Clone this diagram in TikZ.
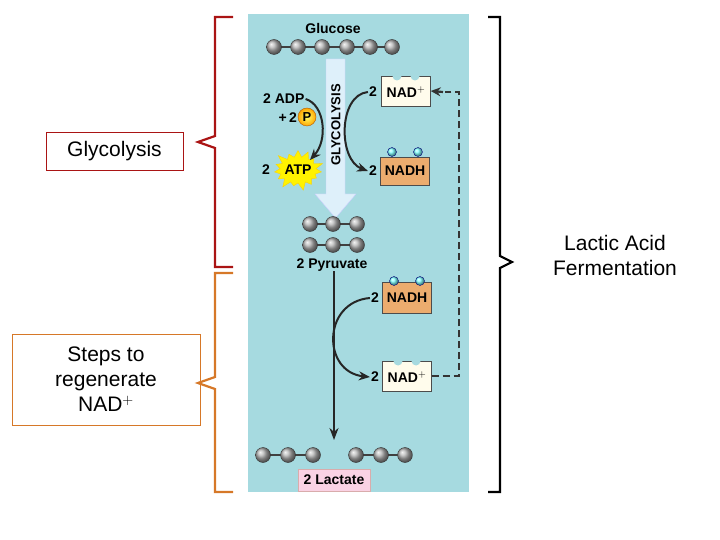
\documentclass[tikz,border=0pt]{standalone}
\usepackage{fontspec}
\setmainfont{Liberation Sans}
\usetikzlibrary{shapes.misc,shapes.geometric,shapes.symbols,arrows.meta}
\definecolor{panel}{RGB}{166,218,224}
\definecolor{nadh}{RGB}{236,172,110}
\definecolor{nadbox}{RGB}{255,252,236}
\definecolor{pinkbox}{RGB}{250,210,228}
\definecolor{arrowfill}{RGB}{222,240,250}
\definecolor{bred}{RGB}{170,20,20}
\definecolor{borange}{RGB}{214,120,40}
\tikzset{
 ball/.style={circle,minimum size=15pt,inner sep=0pt,draw=gray!40!black,ball color=gray!60},
 lbl/.style={font=\bfseries\fontsize{14}{14}\selectfont,inner sep=1pt},
 nadplus/.style={draw=gray!60!black,fill=nadbox,minimum width=49pt,minimum height=30pt,inner sep=0pt},
 nadhbox/.style={draw=gray!60!black,fill=nadh,minimum width=49pt,minimum height=28pt,inner sep=0pt},
 dot/.style={circle,minimum size=9pt,inner sep=0pt,draw=blue!50!black,ball color=cyan!50},
 carrow/.style={-{Stealth[length=11pt,width=9pt]},line width=2pt,black!85},
 side/.style={font=\fontsize{21}{25}\selectfont,align=center},
}
\begin{document}
\begin{tikzpicture}[x=1pt,y=-1pt]
\useasboundingbox (0,0) rectangle (720,540);
\fill[panel] (248,14) rectangle (469,492);
% glucose
\node[lbl] at (333,28) {Glucose};
\draw[gray!50!black,line width=1.2pt] (274,47) -- (392,47);
\foreach \x/\n in {274/g1,298/g2,322/g3,347/g4,370/g5,392/g6} \node[ball] (\n) at (\x,47) {};
% glycolysis arrow
\draw[draw=white!80!blue,fill=arrowfill] (326,59) -- (345,59) -- (345,194) -- (356,194) -- (335.5,218) -- (315,194) -- (326,194) -- cycle;
\node[lbl,rotate=90,font=\bfseries\fontsize{13}{13}\selectfont] (gl) at (336,125) {GLYCOLYSIS};
% pyruvate
\draw[gray!50!black,line width=1.2pt] (310,224) -- (357,224) (310,245) -- (357,245);
\foreach \x/\n in {310/p1,333/p2,357/p3} {\node[ball] (\n a) at (\x,224) {}; \node[ball] (\n b) at (\x,245) {};}
\node[lbl] (pyr) at (332,265) {2 Pyruvate};
% ADP / ATP
\node[lbl,anchor=west] (adp) at (262,99) {2 ADP};
\node[lbl,anchor=east] at (298,118) {+\,2};
\node[circle,minimum size=18pt,inner sep=0pt,draw=orange!70!black,inner color=yellow!60,outer color=orange!70!yellow,font=\bfseries\fontsize{13}{13}\selectfont] (pp) at (307,117) {P};
\node[starburst,starburst points=15,starburst point height=9pt,fill=yellow,draw=yellow!70!orange,minimum width=54pt,minimum height=44pt,inner sep=0pt] (atp) at (298,170) {};
\node[lbl] at (298,170) {ATP};
\node[lbl] at (266,170) {2};
\draw[carrow] (adp.east) .. controls (325,105) and (328,140) .. (310,160);
% NAD+ top
\node[nadplus] (nad1) at (406,91) {};
\foreach \xx in {397,415} \fill[panel] (\xx,76) circle (4.5pt);
\node[lbl] at (406,92) {NAD$^{\mathbf{+}}$};
\node[lbl] (two1) at (373,92) {2};
\node[nadhbox] (nadh1) at (405,171) {};
\foreach \xx in {392,418} \node[dot] at (\xx,152) {};
\node[lbl] at (405,171) {NADH};
\node[lbl] (two2) at (373,171) {2};
\draw[carrow] (two1.west) .. controls (338,95) and (338,160) .. (two2.west);
% bottom
\draw[-{Stealth[length=12pt,width=9pt]},line width=2pt,black!85] (334,271) -- (334,440);
\node[nadhbox,minimum height=31pt] (nadh2) at (407,298) {};
\foreach \xx in {394,420} \node[dot] at (\xx,281) {};
\node[lbl] at (407,298) {NADH};
\node[lbl] (two3) at (375,298) {2};
\node[nadplus] (nad2) at (407,376) {};
\foreach \xx in {398,416} \fill[panel] (\xx,361) circle (4.5pt);
\node[lbl] at (407,377) {NAD$^{\mathbf{+}}$};
\node[lbl] (two4) at (375,377) {2};
\draw[carrow] (two3.west) .. controls (322,302) and (322,372) .. (two4.west);
% dashed
\coordinate (d1) at (459,376);
\coordinate (d2) at (459,92);
\draw[line width=2.2pt,black!80,dash pattern=on 7pt off 4pt] (nad2.east) -- (d1) -- (d2) -- (445,92);
\draw[-{Stealth[length=10pt,width=9pt]},line width=2.2pt,black!80] (443,92) -- (nad1.east);
% lactate
\draw[gray!50!black,line width=1.2pt] (263,455) -- (313,455) (356,455) -- (405,455);
\foreach \x/\n in {263/l1,288/l2,313/l3,356/l4,381/l5,405/l6} \node[ball] (\n) at (\x,455) {};
\node[lbl,draw=pink!70!gray,fill=pinkbox,minimum width=72pt,minimum height=22pt] (lac) at (334,480) {2 Lactate};
% brackets
\draw[bred,line width=2.2pt] (233,17) -- (215,17) -- (215,136) -- (198,142) -- (215,148) -- (215,267) -- (233,267);
\node[side,draw=bred,minimum width=137pt,minimum height=38pt,inner sep=0pt] (glyc) at (114.5,151) {Glycolysis};
\draw[borange,line width=2.2pt] (233,273) -- (215,273) -- (215,377) -- (198,383) -- (215,389) -- (215,492) -- (233,492);
\node[side,draw=borange,minimum width=188pt,minimum height=91pt,inner sep=0pt] (steps) at (106,379.5) {Steps to\\regenerate\\NAD$^{\mathbf{+}}$};
\draw[black,line width=2.2pt] (488,17) -- (500,17) -- (500,256) -- (512,262) -- (500,268) -- (500,492) -- (488,492);
\node[side] (laf) at (615,255) {Lactic Acid\\Fermentation};
\end{tikzpicture}
\end{document}
